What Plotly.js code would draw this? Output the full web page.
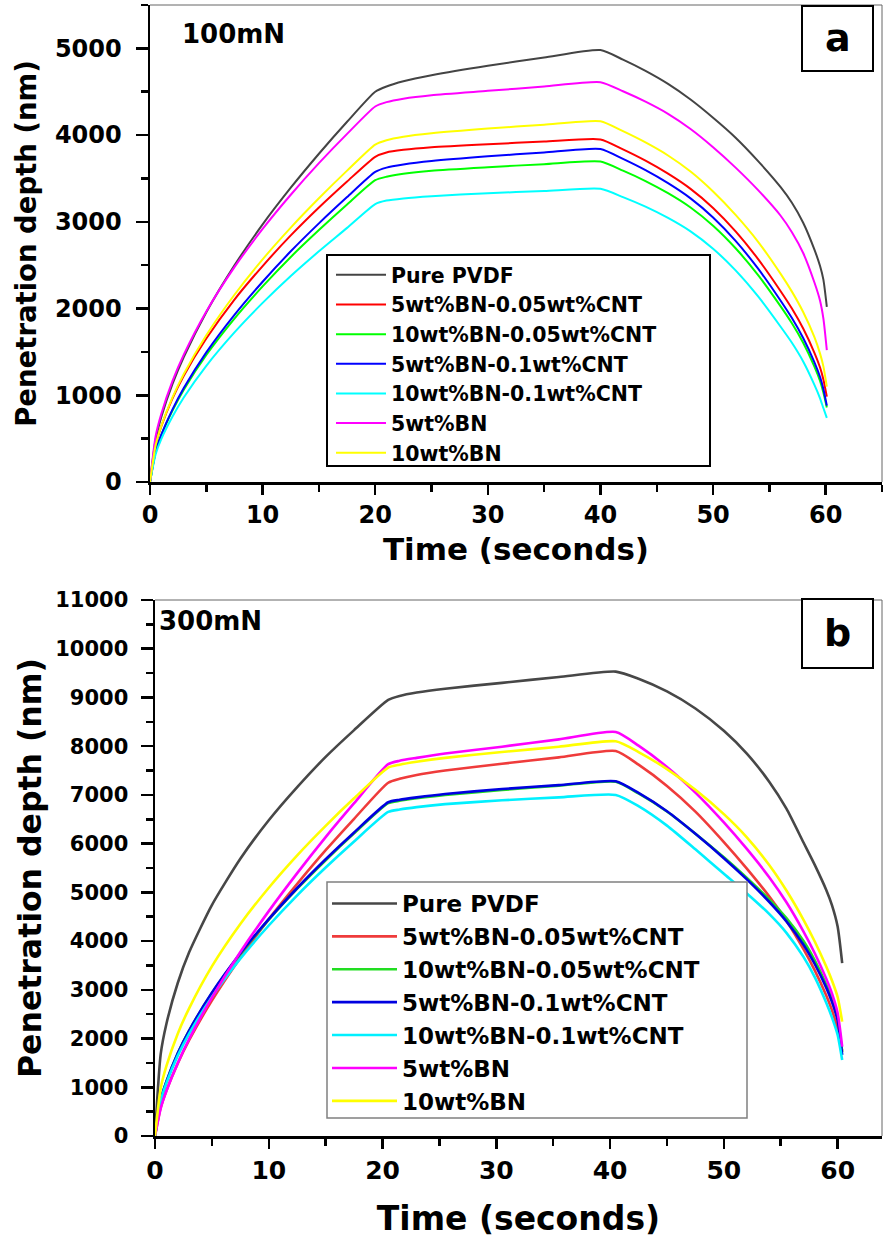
<!DOCTYPE html>
<html>
<head>
<meta charset="utf-8">
<script src="https://cdn.plot.ly/plotly-3.0.1.min.js"></script>
<style>
html,body{margin:0;padding:0;background:#fff;}
#chart{width:884px;height:1240px;}
</style>
</head>
<body>
<div id="chart"></div>
<script>
// ---------- data ----------
const seriesNames = ["Pure PVDF", "5wt%BN-0.05wt%CNT", "10wt%BN-0.05wt%CNT", "5wt%BN-0.1wt%CNT", "10wt%BN-0.1wt%CNT", "5wt%BN", "10wt%BN"];

// panel a: 100 mN
const time_a = [0,0.5,1,2,3,5,7.5,10,12.5,15,17.5,20, 21,22.5,25,30,35,40, 42,44,46,48,50,52,54,56,57,58,59,59.5,59.8,60.1];
const pvdf_a      = [0,490,747,1130,1440,1958,2498,2970,3393,3785,4154,4500, 4560,4620,4690,4800,4895,4980, 4870,4740,4590,4410,4200,3970,3700,3400,3220,2990,2680,2490,2330,2020];
const bn5cnt005_a = [0,424,641,964,1226,1654,2104,2490,2843,3165,3465,3750, 3800,3830,3860,3895,3925,3950, 3835,3705,3555,3380,3160,2890,2570,2200,2000,1770,1490,1320,1180,985];
const bn10cnt005_a= [0,350,540,825,1065,1465,1885,2255,2595,2905,3200,3480, 3520,3555,3590,3630,3665,3695, 3590,3470,3330,3165,2955,2695,2385,2025,1830,1605,1330,1165,1030,860];
const bn5cnt01_a  = [0,350,543,837,1083,1494,1927,2309,2660,2982,3285,3575, 3625,3660,3700,3755,3800,3840, 3725,3595,3445,3270,3050,2780,2460,2090,1890,1660,1380,1210,1070,880];
const bn10cnt01_a = [0,320,495,755,975,1340,1725,2065,2375,2660,2930,3205, 3245,3270,3295,3330,3355,3380, 3285,3175,3045,2890,2690,2440,2140,1790,1605,1390,1120,965,850,740];
const bn5_a       = [0,528,784,1165,1468,1966,2477,2918,3312,3676,4014,4330, 4380,4420,4460,4510,4560,4610, 4505,4385,4245,4070,3860,3625,3365,3070,2880,2640,2300,2090,1880,1520];
const bn10_a      = [0,424,646,976,1245,1692,2159,2567,2933,3271,3590,3890, 3940,3980,4020,4075,4120,4160, 4045,3915,3765,3580,3350,3080,2770,2400,2195,1960,1670,1480,1330,1100];

// panel b: 300 mN
const time_b = [0,0.5,1,2,3,5,7.5,10,12.5,15,17.5,20.5, 21.5,23,25.5,30.5,35.5,40.5, 42.5,45,47.5,50,52,54,55.5,57,58,59,59.5,60,60.4];
const pvdf_b      = [0,1680,2300,3140,3770,4740,5690,6480,7160,7780,8330,8950, 9030,9100,9180,9300,9420,9530, 9384,9124,8774,8316,7852,7266,6717,6023,5560,5050,4740,4300,3550];
const bn5cnt005_b = [0,580,930,1490,1965,2780,3660,4450,5175,5865,6510,7250, 7330,7410,7500,7640,7770,7900, 7620,7183,6658,6033,5493,4913,4418,3833,3393,2883,2583,2193,1750];
const bn10cnt005_b= [0,740,1115,1695,2160,2930,3735,4440,5075,5660,6210,6830, 6880,6930,7000,7100,7190,7270, 7030,6660,6205,5720,5300,4850,4470,4000,3600,3110,2810,2420,1720];
const bn5cnt01_b  = [0,740,1117,1700,2165,2940,3750,4450,5090,5680,6230,6850, 6900,6950,7020,7120,7200,7280, 7040,6665,6202,5702,5272,4802,4405,3925,3525,3045,2755,2375,1663];
const bn10cnt01_b = [0,720,1085,1650,2100,2855,3640,4320,4940,5510,6045,6650, 6700,6750,6810,6890,6950,7000, 6770,6370,5883,5383,4983,4553,4170,3675,3255,2735,2435,2075,1560];
const bn5_b       = [0,567,923,1495,1990,2840,3775,4615,5395,6135,6830,7630, 7700,7760,7850,7990,8140,8290, 8010,7573,7048,6436,5896,5306,4796,4196,3746,3226,2926,2526,1834];
const bn10_b      = [0,980,1435,2100,2620,3480,4350,5095,5760,6365,6930,7560, 7620,7680,7760,7880,7990,8100, 7880,7530,7105,6605,6135,5555,5037,4437,3987,3477,3192,2852,2347];

const xTitle = "Time (seconds)";
const yTitle = "Penetration depth (nm)";
const loadA = "100mN", loadB = "300mN";
const panelA = "a", panelB = "b";

// ---------- styling ----------
const W = 884, H = 1240;
const FONT = "DejaVu Sans";
const colorsA = ["#444444", "#ff0000", "#00ff00", "#0000ff", "#00ffff", "#ff00ff", "#ffff00"];
const colorsB = ["#474747", "#ef3b3b", "#22dd22", "#0000e0", "#00f0ff", "#ff00ff", "#ffff00"];
const seriesA = [pvdf_a, bn5cnt005_a, bn10cnt005_a, bn5cnt01_a, bn10cnt01_a, bn5_a, bn10_a];
const seriesB = [pvdf_b, bn5cnt005_b, bn10cnt005_b, bn5cnt01_b, bn10cnt01_b, bn5_b, bn10_b];

const px = v => v / W;
const py = v => 1 - v / H;
const f = (size) => ({family: FONT, size: size, color: "#000", weight: "bold"});

const traces = [];
seriesNames.forEach((n, i) => {
  traces.push({
    x: time_a, y: seriesA[i], name: n, type: "scatter", mode: "lines",
    xaxis: "x", yaxis: "y", legend: "legend",
    line: {color: colorsA[i], width: 2, shape: "spline", smoothing: 0.6}
  });
});
seriesNames.forEach((n, i) => {
  traces.push({
    x: time_b, y: seriesB[i], name: n, type: "scatter", mode: "lines",
    xaxis: "x2", yaxis: "y2", legend: "legend2",
    line: {color: colorsB[i], width: 2.6, shape: "spline", smoothing: 0.6}
  });
});

function axisBase(extra) {
  return Object.assign({
    showgrid: false, zeroline: false, showline: true, linecolor: "#000", linewidth: 2.5,
    ticks: "outside", tickcolor: "#000", tickwidth: 2.5, automargin: false,
    tickformat: "d", exponentformat: "none"
  }, extra);
}
const minorX = {dtick: 5, ticklen: 7, tickwidth: 2.5, tickcolor: "#000", ticks: "outside"};
const minorY = {dtick: 500, ticklen: 7, tickwidth: 2.5, tickcolor: "#000", ticks: "outside"};

const layout = {
  width: W, height: H,
  margin: {l: 0, r: 0, t: 0, b: 0},
  paper_bgcolor: "#fff", plot_bgcolor: "#fff",
  font: {family: FONT, color: "#000", weight: "bold"},
  showlegend: true,
  xaxis: axisBase({domain: [px(150), px(882)], range: [0, 65], dtick: 10, ticklen: 10, minor: minorX,
    anchor: "y", tickfont: f(24), title: {text: xTitle, standoff: 10, font: f(31)}}),
  yaxis: axisBase({domain: [py(482), py(5)], range: [0, 5500], dtick: 1000, ticklen: 12, minor: minorY,
    ticklabelstandoff: 9, anchor: "x", tickfont: f(24), title: {text: yTitle, standoff: 11, font: f(27.5)}}),
  xaxis2: axisBase({domain: [px(155), px(882)], range: [0, 63.9], dtick: 10, ticklen: 10, minor: minorX,
    anchor: "y2", tickfont: f(25), title: {text: xTitle, standoff: 24, font: f(33)}}),
  yaxis2: axisBase({domain: [py(1136), py(600)], range: [0, 11000], dtick: 1000, ticklen: 12, minor: minorY,
    ticklabelstandoff: 8, anchor: "x2", tickfont: f(21), title: {text: yTitle, standoff: 4, font: f(31.5)}}),
  legend: {
    x: px(331), y: py(255), xanchor: "left", yanchor: "top",
    bgcolor: "rgba(0,0,0,0)", borderwidth: 0,
    font: f(20.5), itemwidth: 50, traceorder: "normal"
  },
  legend2: {
    x: px(327), y: py(882), xanchor: "left", yanchor: "top",
    bgcolor: "rgba(0,0,0,0)", borderwidth: 0,
    font: f(23), itemwidth: 65, traceorder: "normal"
  },
  shapes: [
    {type: "line", xref: "x domain", yref: "y domain", x0: 0, x1: 1, y0: 1, y1: 1, line: {color: "#666", width: 1}},
    {type: "line", xref: "x domain", yref: "y domain", x0: 1, x1: 1, y0: 0, y1: 1, line: {color: "#666", width: 1}},
    {type: "line", xref: "x2 domain", yref: "y2 domain", x0: 0, x1: 1, y0: 1, y1: 1, line: {color: "#666", width: 1}},
    {type: "line", xref: "x2 domain", yref: "y2 domain", x0: 1, x1: 1, y0: 0, y1: 1, line: {color: "#666", width: 1}},
    // legend frames
    {type: "rect", xref: "paper", yref: "paper", layer: "above", x0: px(327), x1: px(710), y0: py(466), y1: py(255), line: {color: "#000", width: 2}, fillcolor: "#fff"},
    {type: "rect", xref: "paper", yref: "paper", layer: "above", x0: px(327), x1: px(747), y0: py(1118), y1: py(882), line: {color: "#808080", width: 1.5}, fillcolor: "#fff"},
    // panel label boxes
    {type: "rect", xref: "paper", yref: "paper", x0: px(802), x1: px(873), y0: py(71), y1: py(6), line: {color: "#000", width: 2}, fillcolor: "#fff"},
    {type: "rect", xref: "paper", yref: "paper", x0: px(802), x1: px(873), y0: py(668), y1: py(599), line: {color: "#000", width: 2}, fillcolor: "#fff"}
  ],
  annotations: [
    {text: loadA, xref: "paper", yref: "paper", x: px(180), y: py(34), xanchor: "left", yanchor: "middle", showarrow: false, font: f(26)},
    {text: loadB, xref: "paper", yref: "paper", x: px(157), y: py(621), xanchor: "left", yanchor: "middle", showarrow: false, font: f(26)},
    {text: panelA, xref: "paper", yref: "paper", x: px(837.5), y: py(38), xanchor: "center", yanchor: "middle", showarrow: false, font: f(38)},
    {text: panelB, xref: "paper", yref: "paper", x: px(837.5), y: py(633), xanchor: "center", yanchor: "middle", showarrow: false, font: f(38)}
  ]
};

Plotly.newPlot("chart", traces, layout, {displayModeBar: false, staticPlot: true});
</script>
</body>
</html>
